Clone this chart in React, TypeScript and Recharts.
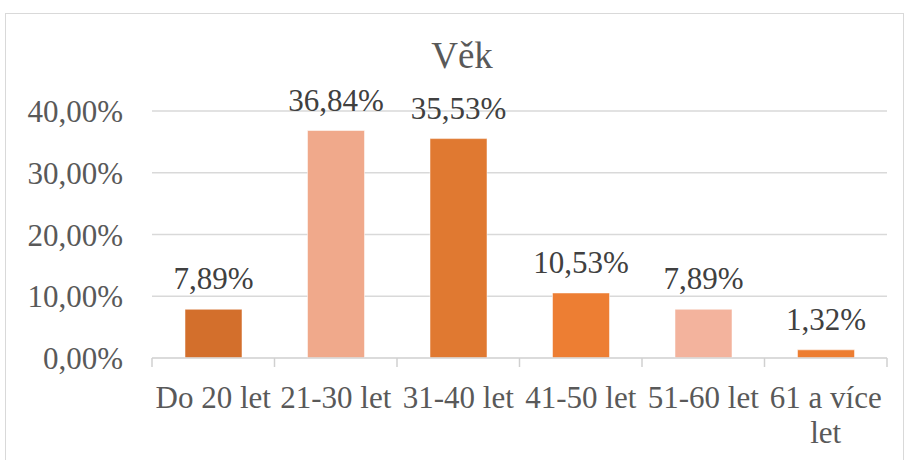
import { BarChart, Bar, XAxis, YAxis, CartesianGrid, Cell, LabelList } from "recharts";

const categories = ["Do 20 let", "21-30 let", "31-40 let", "41-50 let", "51-60 let", "61 a více let"];
// tick labels as they wrap in the picture
const tickLabels = [["Do 20 let"], ["21-30 let"], ["31-40 let"], ["41-50 let"], ["51-60 let"], ["61 a více", "let"]];
const shares = [7.89, 36.84, 35.53, 10.53, 7.89, 1.32];
const barColors = ["#D36F2C", "#F0A98B", "#E07931", "#ED7E33", "#F3B39D", "#ED7D31"];
const yTicks = [0, 10, 20, 30, 40];

const data = categories.map((name, i) => ({ name, value: shares[i], lines: tickLabels[i] }));

const FONT = "'Liberation Serif', 'Times New Roman', serif";
const fmt = (v: number) => v.toFixed(2).replace(".", ",") + "%";

const CHART_W = 906;
const CHART_H = 460;
const Y_AXIS_W = 152;
const MARGIN = { top: 111, right: 19, bottom: 72, left: 0 };
const BAND = (CHART_W - Y_AXIS_W - MARGIN.left - MARGIN.right) / categories.length;

const XTick = (props: any) => {
    const { x, y, payload } = props;
    const idx = categories.indexOf(payload.value);
    const half = BAND / 2;
    const lines = tickLabels[idx] || [payload.value];
    return (
        <g>
            <line x1={x - half} x2={x - half} y1={y} y2={y + 9} stroke="#D0D0D0" strokeWidth={1.5} />
            {idx === categories.length - 1 && (
                <line x1={x + half} x2={x + half} y1={y} y2={y + 9} stroke="#D0D0D0" strokeWidth={1.5} />
            )}
            <text x={x} y={y + 50} textAnchor="middle" fill="#595959" fontSize={31} fontFamily={FONT}>
                {lines.map((l: string, i: number) => (
                    <tspan key={i} x={x} dy={i === 0 ? 0 : 35}>
                        {l}
                    </tspan>
                ))}
            </text>
        </g>
    );
};

const TopLabel = (props: any) => {
    const { x, y, width, value } = props;
    return (
        <text x={x + width / 2} y={y - 20} textAnchor="middle" fill="#404040" fontSize={31} fontFamily={FONT}>
            {fmt(value)}
        </text>
    );
};

export default function App() {
    return (
        <div style={{ position: "absolute", left: 0, top: 0, width: CHART_W, height: CHART_H, background: "#fff", overflow: "hidden" }}>
            {/* chart frame */}
            <div
                style={{
                    position: "absolute",
                    left: 5,
                    top: 13,
                    width: 897,
                    height: 470,
                    border: "1.5px solid #D9D9D9",
                }}
            />
            <div
                style={{
                    position: "absolute",
                    left: 462,
                    top: 37,
                    transform: "translateX(-50%)",
                    fontFamily: FONT,
                    fontSize: 37,
                    lineHeight: "37px",
                    color: "#595959",
                    whiteSpace: "nowrap",
                }}
            >
                Věk
            </div>
            <div style={{ position: "absolute", left: 0, top: 0 }}>
                <BarChart width={CHART_W} height={CHART_H} data={data} margin={MARGIN}>
                    <CartesianGrid vertical={false} stroke="#D9D9D9" strokeWidth={1.5} />
                    <XAxis
                        dataKey="name"
                        height={30}
                        axisLine={{ stroke: "#D9D9D9", strokeWidth: 1.5 }}
                        tickLine={false}
                        tickSize={0}
                        tickMargin={0}
                        interval={0}
                        tick={<XTick />}
                    />
                    <YAxis
                        width={Y_AXIS_W}
                        domain={[0, 40]}
                        ticks={yTicks}
                        axisLine={false}
                        tickLine={false}
                        tickSize={0}
                        tickMargin={29}
                        tickFormatter={fmt}
                        tick={{ fill: "#595959", fontSize: 31, fontFamily: FONT }}
                    />
                    <Bar dataKey="value" barSize={57} isAnimationActive={false} stroke="#ffffff" strokeOpacity={0.5} strokeWidth={1}>
                        {data.map((d, i) => (
                            <Cell key={d.name} fill={barColors[i]} />
                        ))}
                        <LabelList dataKey="value" content={<TopLabel />} />
                    </Bar>
                </BarChart>
            </div>
        </div>
    );
}
